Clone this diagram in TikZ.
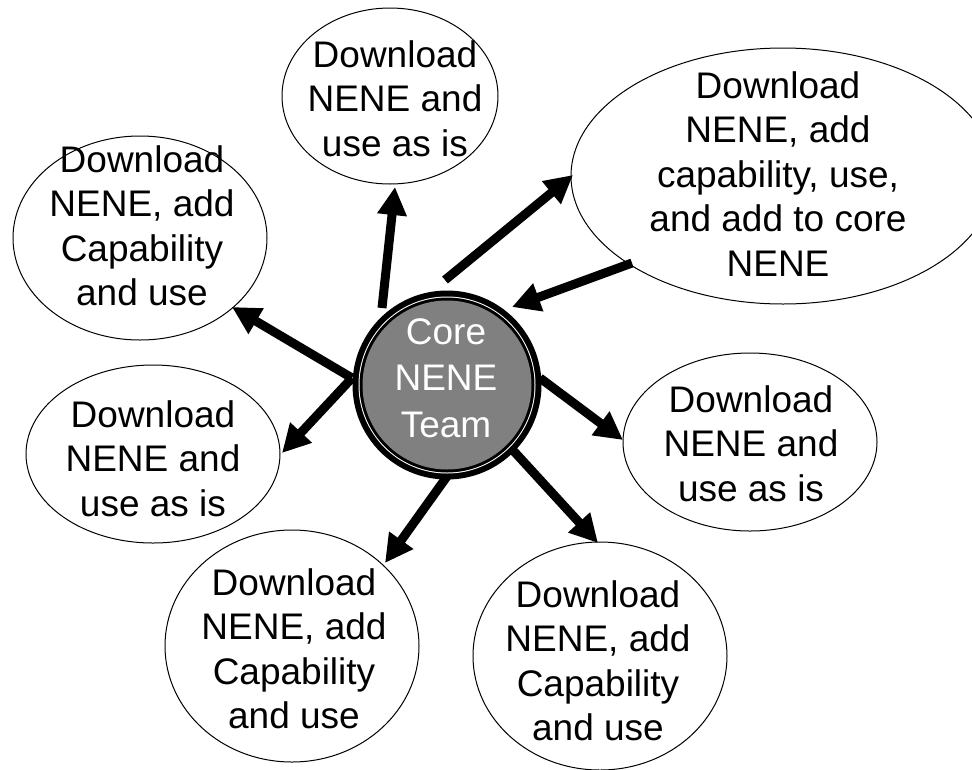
\documentclass[tikz,border=0pt]{standalone}
\usepackage{fontspec}
\setmainfont{Liberation Sans}
\usetikzlibrary{arrows.meta,calc,shapes.geometric,backgrounds}
\definecolor{coregray}{RGB}{128,128,128}
\begin{document}
\begin{tikzpicture}[x=1pt,y=-1pt,
  bub/.style={ellipse, draw=black, line width=1pt, inner sep=0pt, outer sep=0pt},
  lbl/.style={anchor=north, inner sep=0pt, align=center, font=\fontsize{37}{44.5}\selectfont},
  arr/.style={line width=9pt, -{Triangle[length=28pt,width=28pt]}}]
\useasboundingbox (0,0) rectangle (972,769);
% bubbles
\node[bub, minimum width=216pt, minimum height=176pt] (eA) at (390,96) {};
\node[bub, minimum width=424pt, minimum height=256pt] (eB) at (783,176) {};
\node[bub, minimum width=254pt, minimum height=204pt] (eC) at (140,238) {};
\node[bub, minimum width=254pt, minimum height=178pt] (eD) at (153,454) {};
\node[bub, minimum width=254pt, minimum height=178pt] (eE) at (750,442) {};
\node[bub, minimum width=254pt, minimum height=232pt] (eF) at (292,646) {};
\node[bub, minimum width=254pt, minimum height=228pt] (eG) at (600,656) {};
% core
\node[circle, minimum size=189pt, inner sep=0pt, outer sep=0pt, fill=black] (core) at (447,385) {};
\fill[white] (core.center) circle (88.5);
\fill[black] (core.center) circle (87.5);
\fill[coregray] (core.center) circle (84.5);
% arrows (behind the core)
\begin{pgfonlayer}{background}
\fill[white] (0,0) rectangle (972,769);
\draw[arr] ($(core.center)+(-65,-77)$) -- ($(eA.center)+(5,91)$);
\draw[arr] ($(core.center)+(-2,-105)$) -- ($(eB.center)+(-210,-1)$);
\draw[arr] ($(eB.center)+(-151,87)$) -- ($(core.center)+(65,-78)$);
\draw[arr] ($(core.center)+(-95,-7)$) -- ($(eC.center)+(92,69)$);
\draw[arr] ($(core.center)+(-95,-7)$) -- ($(eD.center)+(129,-1)$);
\draw[arr] ($(core.center)+(93,-7)$) -- ($(eE.center)+(-127,-2)$);
\draw[arr] ($(core.center)+(1,90)$) -- ($(eF.center)+(93,-83)$);
\draw[arr] ($(core.center)+(63,62)$) -- ($(eG.center)+(-2,-113)$);
\end{pgfonlayer}
% texts
\node[lbl] (tA) at (395,40) {Download\\NENE and\\use as is};
\node[lbl] (tB) at (778,71) {Download\\NENE, add\\capability, use,\\and add to core\\NENE};
\node[lbl] (tC) at (142,145) {Download\\NENE, add\\Capability\\and use};
\node[lbl] (tD) at (153,400) {Download\\NENE and\\use as is};
\node[lbl] (tE) at (751,385) {Download\\NENE and\\use as is};
\node[lbl] (tF) at (294,568) {Download\\NENE, add\\Capability\\and use};
\node[lbl] (tG) at (598,580) {Download\\NENE, add\\Capability\\and use};
\node[lbl, text=white, font=\fontsize{37}{46.5}\selectfont] (tcore) at (446,318) {Core\\NENE\\Team};
\end{tikzpicture}
\end{document}
